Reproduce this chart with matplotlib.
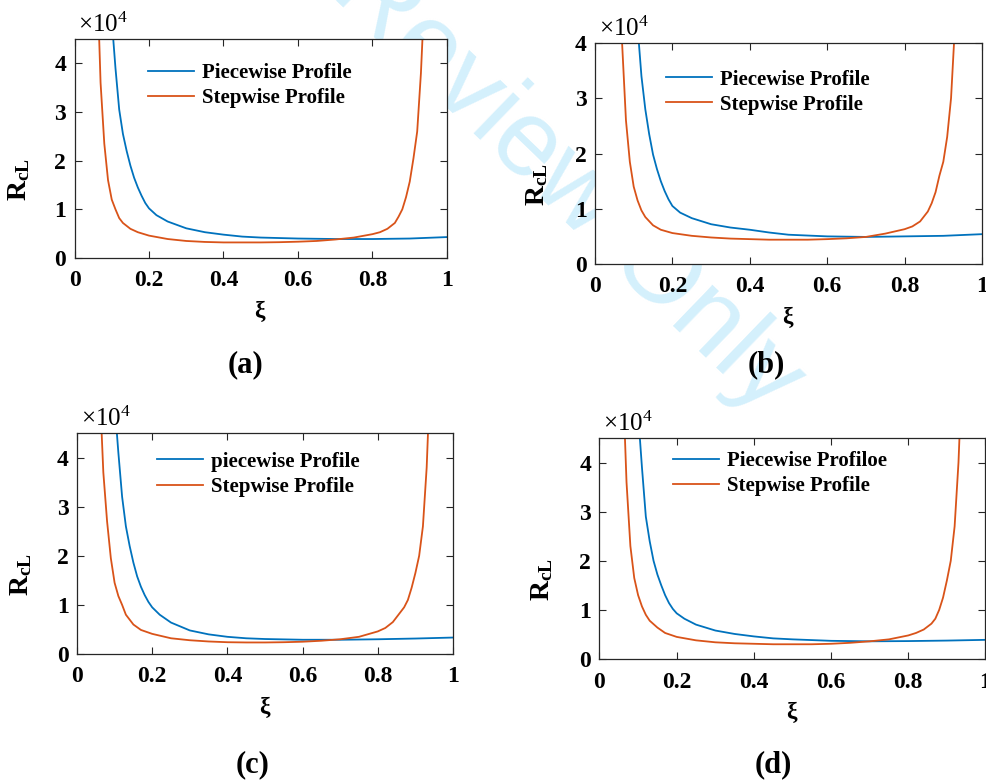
import matplotlib
matplotlib.use("Agg")
import matplotlib.pyplot as plt

plt.rcParams['font.family'] = ['Liberation Serif', 'DejaVu Serif']
plt.rcParams['mathtext.fontset'] = 'custom'
plt.rcParams['mathtext.rm'] = 'Liberation Serif'
plt.rcParams['mathtext.bf'] = 'Liberation Serif:bold'
plt.rcParams['mathtext.it'] = 'Liberation Serif:italic'

BLUE = '#0072BD'
ORANGE = '#D95319'

# ---------------- data (values in units of 1e4) ----------------
x_piece = [0.08, 0.09, 0.10, 0.11, 0.12, 0.13, 0.14, 0.15, 0.16, 0.17, 0.18, 0.19,
           0.20, 0.22, 0.25, 0.30, 0.35, 0.40, 0.45, 0.50, 0.60, 0.70, 0.80, 0.90, 1.00]
x_step = [0.04, 0.05, 0.06, 0.07, 0.08, 0.09, 0.10, 0.11, 0.12, 0.13, 0.15, 0.17,
          0.20, 0.25, 0.30, 0.35, 0.40, 0.45, 0.50, 0.55, 0.60, 0.65, 0.70, 0.75,
          0.80, 0.82, 0.84, 0.86, 0.87, 0.88, 0.89, 0.90, 0.91, 0.92, 0.93, 0.94, 0.95]

# panel (a)
ya_piece = [7.5, 6.0, 4.9, 3.9, 3.05, 2.55, 2.2, 1.9, 1.65, 1.45, 1.28, 1.13,
            1.02, 0.88, 0.75, 0.61, 0.53, 0.48, 0.44, 0.42, 0.40, 0.39, 0.39, 0.40, 0.43]
ya_step = [14, 9.0, 6.0, 3.6, 2.35, 1.6, 1.2, 1.0, 0.82, 0.72, 0.6, 0.53,
           0.46, 0.39, 0.35, 0.33, 0.32, 0.32, 0.32, 0.325, 0.335, 0.35, 0.38, 0.42,
           0.49, 0.53, 0.6, 0.72, 0.85, 1.0, 1.25, 1.57, 2.05, 2.6, 3.8, 5.5, 8.5]

# panel (b)
yb_piece = [8.5, 6.8, 5.5, 4.3, 3.4, 2.8, 2.35, 1.98, 1.72, 1.5, 1.32, 1.17,
            1.05, 0.93, 0.83, 0.72, 0.66, 0.62, 0.57, 0.53, 0.50, 0.49, 0.50, 0.51, 0.54]
yb_step = [15, 10, 6.5, 4.0, 2.6, 1.85, 1.4, 1.15, 0.97, 0.85, 0.7, 0.62,
           0.56, 0.51, 0.48, 0.46, 0.45, 0.44, 0.44, 0.44, 0.45, 0.465, 0.49, 0.55,
           0.63, 0.68, 0.77, 0.95, 1.1, 1.3, 1.6, 1.85, 2.3, 3.0, 4.3, 6.5, 10]

# panel (c)
yc_piece = [8.0, 6.3, 5.1, 4.1, 3.2, 2.6, 2.2, 1.86, 1.58, 1.37, 1.2, 1.06,
            0.95, 0.8, 0.64, 0.48, 0.40, 0.35, 0.32, 0.305, 0.29, 0.29, 0.30, 0.315, 0.335]
yc_step = [13, 8.5, 5.5, 3.7, 2.7, 1.95, 1.45, 1.18, 1.0, 0.8, 0.6, 0.49,
           0.41, 0.32, 0.28, 0.255, 0.24, 0.235, 0.235, 0.24, 0.25, 0.27, 0.30, 0.35,
           0.46, 0.53, 0.65, 0.85, 0.95, 1.1, 1.35, 1.65, 2.0, 2.6, 3.8, 5.8, 9]

# panel (d)
yd_piece = [7.5, 6.1, 5.0, 3.9, 2.9, 2.4, 2.0, 1.72, 1.5, 1.3, 1.14, 1.02,
            0.93, 0.82, 0.70, 0.58, 0.51, 0.46, 0.42, 0.40, 0.37, 0.36, 0.365, 0.375, 0.39]
yd_step = [14, 9, 5.8, 3.6, 2.3, 1.65, 1.3, 1.07, 0.9, 0.78, 0.64, 0.53,
           0.45, 0.38, 0.34, 0.32, 0.31, 0.30, 0.30, 0.30, 0.31, 0.33, 0.36, 0.40,
           0.48, 0.53, 0.60, 0.72, 0.82, 1.0, 1.25, 1.6, 2.0, 2.7, 4.0, 6.0, 9]

legend_a = ['Piecewise Profile', 'Stepwise Profile']
legend_b = ['Piecewise Profile', 'Stepwise Profile']
legend_c = ['piecewise Profile', 'Stepwise Profile']
legend_d = ['Piecewise Profiloe', 'Stepwise Profile']
panel_tags = ['(a)', '(b)', '(c)', '(d)']
xticks = [0, 0.2, 0.4, 0.6, 0.8, 1.0]
xticklabels = ['0', '0.2', '0.4', '0.6', '0.8', '1']
yticks = [0, 1, 2, 3, 4]
yticklabels = ['0', '1', '2', '3', '4']
ylims = [4.5, 4.0, 4.5, 4.5]

W, H = 987, 782
fig = plt.figure(figsize=(W / 100, H / 100), dpi=100)
fig.patch.set_facecolor('white')

# faint review watermark (behind the axes)
fig.text(498 / W, 1 - 118 / H, 'For Review Only', rotation=-44,
         fontsize=78, color='#d4f0fc', family='Liberation Sans',
         ha='center', va='center', zorder=-10)

# axes boxes in pixels: left, right, top, bottom
boxes = [(74.5, 447, 39, 258), (595, 982, 43, 264),
         (77, 453, 433, 654), (599.5, 985.5, 438, 659)]
series = [(x_piece, ya_piece, x_step, ya_step, legend_a),
          (x_piece, yb_piece, x_step, yb_step, legend_b),
          (x_piece, yc_piece, x_step, yc_step, legend_c),
          (x_piece, yd_piece, x_step, yd_step, legend_d)]
leg_anchor = [(0.197, 0.89), (0.183, 0.88), (0.213, 0.915), (0.19, 0.94)]
tag_pos = [(246, 365), (766, 365), (253, 765), (773, 765)]

for i, ((l, r, t, b), (xp, yp, xs, ys, labs)) in enumerate(zip(boxes, series)):
    ax = fig.add_axes([l / W, 1 - b / H, (r - l) / W, (b - t) / H])
    ax.plot(xp, yp, color=BLUE, lw=1.3, label=labs[0])
    ax.plot(xs, ys, color=ORANGE, lw=1.3, label=labs[1])
    ax.set_xlim(0, 1)
    ax.set_ylim(0, ylims[i])
    ax.set_xticks(xticks)
    ax.set_xticklabels(xticklabels)
    ax.set_yticks(yticks)
    ax.set_yticklabels(yticklabels)
    ax.tick_params(direction='in', length=5, width=0.8, top=True, right=True,
                   labelsize=17, colors='#262626')
    ax.tick_params(axis='x', pad=9)
    ax.tick_params(axis='y', pad=6)
    for lab in ax.get_xticklabels() + ax.get_yticklabels():
        lab.set_fontweight('bold')
        lab.set_color('black')
    for sp in ax.spines.values():
        sp.set_color('#262626')
        sp.set_linewidth(0.9)
    ax.set_xlabel(r'$\mathbf{\xi}$', fontsize=17, labelpad=5)
    ax.set_ylabel(r'$\mathbf{R_{cL}}$', fontsize=20)
    ax.yaxis.set_label_coords(-0.115, 0.36)
    ax.text(0.01, 1.01, r'$\times10^{4}$', transform=ax.transAxes,
            fontsize=18, ha='left', va='bottom')
    leg = ax.legend(loc='upper left', bbox_to_anchor=leg_anchor[i], frameon=False,
                    prop={'family': 'Liberation Serif', 'weight': 'bold', 'size': 15},
                    handlelength=2.2, handletextpad=0.4, labelspacing=0.25,
                    borderpad=0, borderaxespad=0)
    tx, ty = tag_pos[i]
    fig.text(tx / W, 1 - ty / H, panel_tags[i], fontsize=22, fontweight='bold',
             ha='center', va='center')

fig.savefig('out.png', dpi=100, facecolor='white')
